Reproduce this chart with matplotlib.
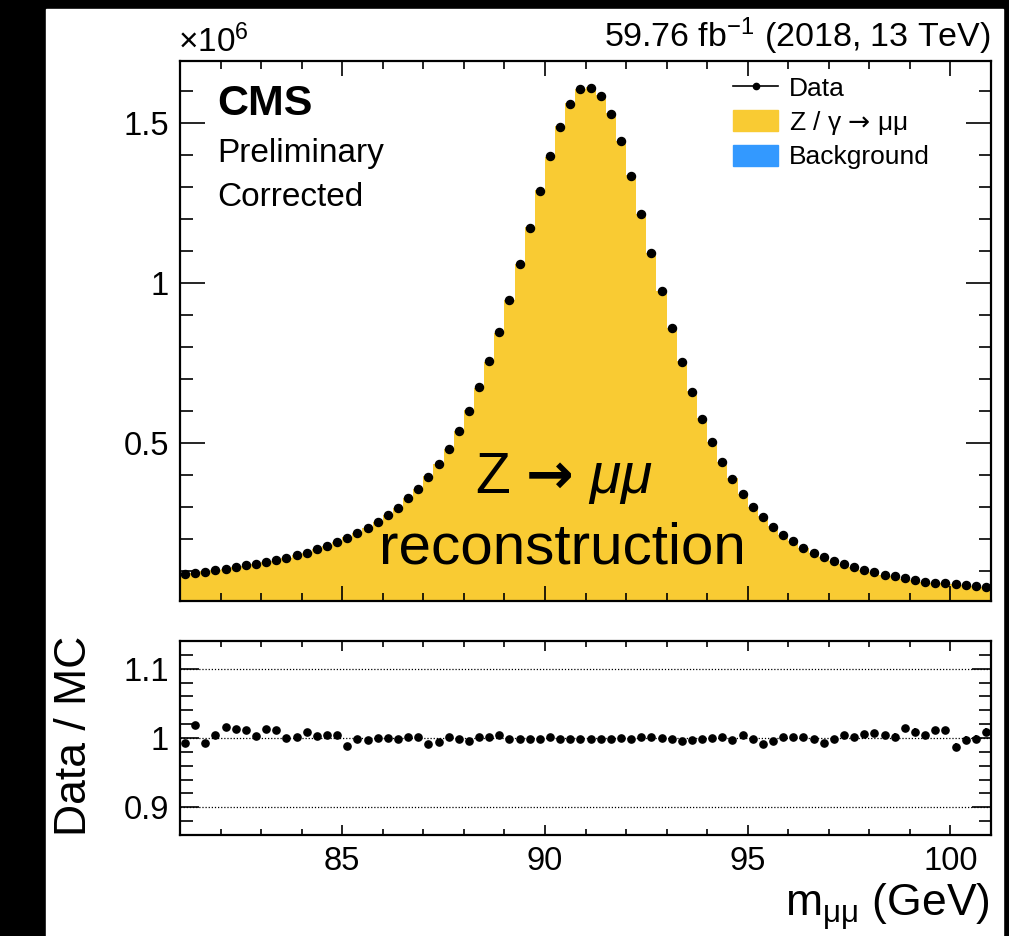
import numpy as np
import matplotlib
matplotlib.use("Agg")
import matplotlib.pyplot as plt
from matplotlib.patches import Patch, Rectangle
from matplotlib.lines import Line2D
from matplotlib.ticker import MultipleLocator, FixedLocator, FuncFormatter

plt.rcParams['font.family'] = ['Liberation Sans', 'DejaVu Sans']
plt.rcParams['mathtext.fontset'] = 'custom'
plt.rcParams['mathtext.rm'] = 'Liberation Sans'
plt.rcParams['mathtext.it'] = 'Liberation Sans:italic'
plt.rcParams['mathtext.sf'] = 'DejaVu Sans'
plt.rcParams['mathtext.bf'] = 'DejaVu Sans:bold'

############################################
# data
############################################

m_lo, m_hi, n_bins = 81.0, 101.0, 80

# data yield per bin, in units of 1e6 events
data_1e6 = [
    0.0906, 0.0948, 0.0979, 0.102, 0.107, 0.1135, 0.118, 0.123, 0.128, 0.134,
    0.1417, 0.150, 0.157, 0.169, 0.178, 0.190, 0.203, 0.218, 0.234, 0.253,
    0.274, 0.297, 0.328, 0.357, 0.393,
    0.433, 0.482, 0.536, 0.601, 0.674, 0.756, 0.848, 0.947, 1.059, 1.173,
    1.288, 1.396, 1.488, 1.560,
    1.606, 1.611, 1.586, 1.527, 1.444, 1.335, 1.216, 1.095, 0.974, 0.858,
    0.752, 0.659, 0.576, 0.504, 0.442, 0.388,
    0.341, 0.301, 0.268, 0.2385, 0.2135, 0.193, 0.173, 0.157, 0.144, 0.130,
    0.121, 0.1125, 0.103, 0.096, 0.0885, 0.083, 0.077, 0.072, 0.0667, 0.0635,
    0.0615, 0.058, 0.055, 0.053, 0.049,
]

# data / MC per bin
ratio = [
    0.993, 1.019, 0.993, 1.005, 1.016, 1.013, 1.012, 1.003, 1.013, 1.012,
    1.000, 1.001, 1.009, 1.003, 1.004, 1.004, 0.988, 0.999, 0.997, 1.000,
    1.000, 0.999, 1.001, 1.002, 0.992, 0.994, 1.001, 0.999, 0.996, 1.002,
    1.002, 1.004, 0.999, 0.999, 0.998, 0.999, 1.002, 0.999, 0.999, 0.999,
    0.998, 0.999, 0.998, 1.000, 0.998, 1.001, 1.001, 1.000, 0.999, 0.996,
    0.997, 0.998, 1.000, 1.002, 0.997, 1.004, 0.999, 0.991, 0.996, 1.002,
    1.001, 1.002, 0.999, 0.993, 0.999, 1.005, 1.001, 1.006, 1.007, 1.004,
    1.002, 1.014, 1.009, 1.004, 1.011, 1.011, 0.987, 0.997, 0.998, 1.009,
]

lumi_text = "59.76 fb$^{-1}$ (2018, 13 TeV)"

############################################
# derived
############################################

data = np.array(data_1e6)
ratio = np.array(ratio)
edges = np.linspace(m_lo, m_hi, n_bins + 1)
centers = 0.5 * (edges[1:] + edges[:-1])
mc = data / ratio
# poisson stat. uncertainty on the ratio
ratio_err = ratio / np.sqrt(data * 1e6)

yellow = "#F9CB33"
blue = "#3399FF"

############################################
# figure
############################################

W, H = 1009, 936
fig = plt.figure(figsize=(W / 100, H / 100), dpi=100, facecolor="black")
fig.add_artist(Rectangle((46 / W, 0), (1003 - 46) / W, 1 - 9 / H,
                         transform=fig.transFigure, color="white", zorder=-10))


def fpos(x, y):
    return x / W, 1 - y / H


L = 180 / W
Wd = 811 / W
ax = fig.add_axes([L, 1 - 601 / H, Wd, 540 / H])
rax = fig.add_axes([L, 1 - 835 / H, Wd, 194 / H], sharex=ax)

# main
ax.stairs(mc, edges, fill=True, color=yellow, zorder=1)
ax.plot(centers, data, "o", color="black", ms=5.8, zorder=3)
ax.set_xlim(m_lo, m_hi)
ax.set_ylim(0.006, 1.694)

# ratio
for yl in (0.9, 1.0, 1.1):
    rax.axhline(yl, color="black", ls=(0, (1, 1.5)), lw=0.9, zorder=1)
rax.errorbar(centers, ratio, yerr=ratio_err * 1.3, fmt="o", color="black",
             ms=5.2, elinewidth=1.3, capsize=0, zorder=3)
rax.set_ylim(0.86, 1.14)

fmt = FuncFormatter(lambda v, p: "%g" % round(v, 3))
for a in (ax, rax):
    a.tick_params(which="both", direction="in", top=True, right=True,
                  width=1.2, labelsize=23.5, pad=8)
    a.xaxis.set_major_locator(FixedLocator([85, 90, 95, 100]))
    a.xaxis.set_minor_locator(MultipleLocator(1))
    a.yaxis.set_major_formatter(fmt)
    a.xaxis.set_major_formatter(fmt)
    for s in a.spines.values():
        s.set_linewidth(1.6)

ax.tick_params(axis="x", labelbottom=False)
ax.tick_params(axis="x", which="major", length=11)
ax.tick_params(axis="x", which="minor", length=5.5)
ax.tick_params(axis="y", which="major", length=18)
ax.tick_params(axis="y", which="minor", length=9)
ax.yaxis.set_major_locator(FixedLocator([0.5, 1.0, 1.5]))
ax.yaxis.set_minor_locator(MultipleLocator(0.1))

rax.tick_params(axis="x", which="major", length=7)
rax.tick_params(axis="x", which="minor", length=4)
rax.tick_params(axis="y", which="major", length=14)
rax.tick_params(axis="y", which="minor", length=9)
rax.yaxis.set_major_locator(FixedLocator([0.9, 1.0, 1.1]))
rax.yaxis.set_minor_locator(MultipleLocator(0.02))

# legend
handles = [
    Line2D([], [], color="black", marker="o", ms=4.5, lw=1.2),
    Patch(facecolor=yellow, edgecolor=yellow),
    Patch(facecolor=blue, edgecolor=blue),
]
labels = ["Data", "Z / \u03b3 $\\mathsf{\u2192}$ \u03bc\u03bc", "Background"]
ax.legend(handles, labels, loc="upper left", bbox_to_anchor=(0.682, 0.972),
          frameon=False, fontsize=19, handlelength=1.7, handleheight=0.85,
          labelspacing=0.3, handletextpad=0.4, borderpad=0, borderaxespad=0)

# texts
fig.text(*fpos(178, 52), r"$\times$10$^{6}$", fontsize=24, ha="left", va="baseline")
fig.text(*fpos(991, 47), lumi_text, fontsize=24.5, ha="right", va="baseline")
fig.text(*fpos(217, 115), "CMS", fontsize=31, fontweight="bold", ha="left", va="baseline")
fig.text(*fpos(217, 162), "Preliminary", fontsize=24, ha="left", va="baseline")
fig.text(*fpos(217, 206), "Corrected", fontsize=24, ha="left", va="baseline")
fig.text(*fpos(564, 493), "Z $\\mathbf{\u2192}$ $\\mathit{\u03bc\u03bc}$", fontsize=41,
         ha="center", va="baseline")
fig.text(*fpos(562, 563), "reconstruction", fontsize=42, ha="center", va="baseline")

fig.text(*fpos(74, 736), "Data / MC", fontsize=32, rotation=90,
         ha="center", va="center")
fig.text(*fpos(990, 917), "m$_{\\mathrm{\u03bc\u03bc}}$ (GeV)", fontsize=32,
         ha="right", va="baseline")

fig.savefig("out.png", dpi=100, facecolor=fig.get_facecolor())
